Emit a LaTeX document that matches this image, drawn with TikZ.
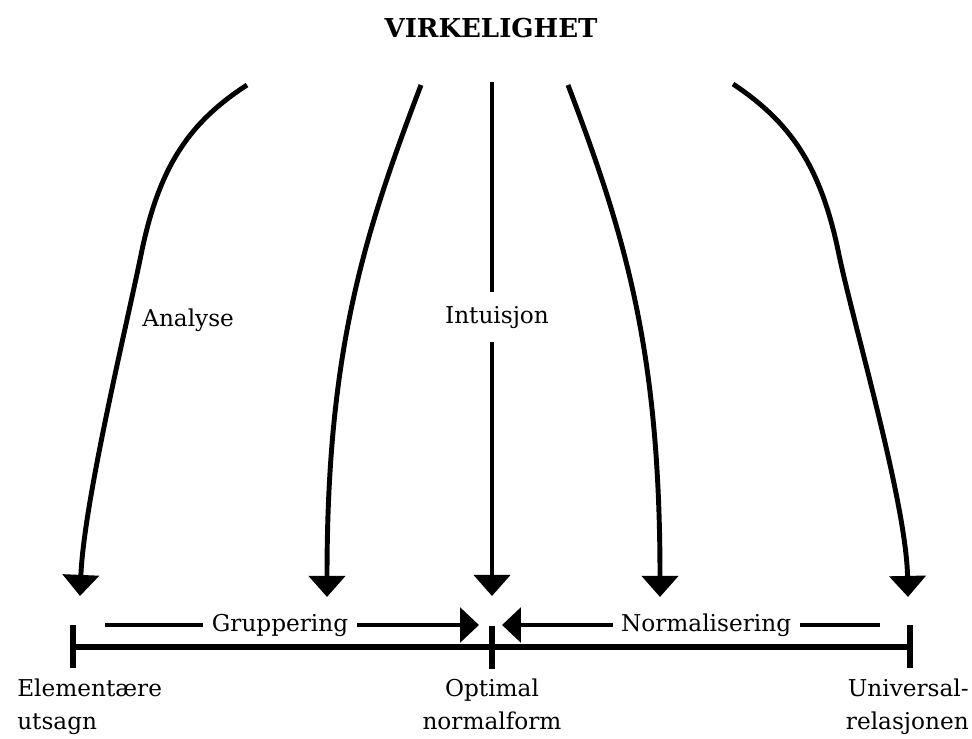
\documentclass[tikz,border=0pt]{standalone}
\usepackage{fontspec}
\setmainfont{DejaVu Serif}
\usetikzlibrary{arrows.meta}
\begin{document}
\begin{tikzpicture}[x=0.025cm,y=-0.025cm,
  flow/.style={line width=3.5pt, -{Triangle[width=25.5pt,length=15pt]}},
  push/.style={line width=3.4pt, -{Triangle[width=24.5pt,length=13.5pt]}},
  axisline/.style={line width=4pt},
  lbl/.style={font=\fontsize{16.5}{23.4}\selectfont, inner sep=0pt},
  vgap/.style={fill=white, inner xsep=6pt, inner ysep=10pt},
  hgap/.style={fill=white, inner xsep=6pt, inner ysep=3pt}
]
\useasboundingbox (0,0) rectangle (972,738);

% title
\node[font=\fontsize{18.5}{22}\selectfont\bfseries, anchor=base, inner sep=0pt] (virk) at (491,37) {VIRKELIGHET};

% upper ends of the five paths
\coordinate (sA) at (247,85);
\coordinate (sG) at (421,85);
\coordinate (sI) at (492,82);
\coordinate (sN) at (568,85);
\coordinate (sU) at (733,84);
% bends of the two outer paths
\coordinate (mA) at (142,250);
\coordinate (mU) at (838,250);
% arrow tips above the axis
\coordinate (tA) at (80,596);
\coordinate (tG) at (327,597);
\coordinate (tI) at (492,596);
\coordinate (tN) at (660,597);
\coordinate (tU) at (908,597);

\draw[flow] (sA) .. controls (190,122) and (160,165) .. (mA)
                 .. controls (128,320) and (84,500) .. (tA);
\draw[flow] (sG) .. controls (364,235) and (327,350) .. (tG);
\draw[flow] (sI) -- (tI);
\draw[flow] (sN) .. controls (625,235) and (660,350) .. (tN);
\draw[flow] (sU) .. controls (790,122) and (820,165) .. (mU)
                 .. controls (852,320) and (906,500) .. (tU);

\node[lbl, anchor=base west] (lA) at (142,326) {Analyse};
\node[lbl, vgap, anchor=base] (lI) at (497,323) {Intuisjon};

% horizontal arrows towards the middle
\coordinate (gS) at (105,625);
\coordinate (gT) at (479,625);
\coordinate (nS) at (880,625);
\coordinate (nT) at (502,625);
\draw[push] (gS) -- node[lbl, hgap, pos=0.468] (lG) {Gruppering} (gT);
\draw[push] (nS) -- node[lbl, hgap, pos=0.46] (lN) {Normalisering} (nT);

% axis with three ticks
\coordinate (xL) at (73,647);
\coordinate (xM) at (492,647);
\coordinate (xR) at (910,647);
\draw[axisline] (xL) -- (xR);
\draw[axisline] (xL) ++(0,-22) -- ++(0,43);
\draw[axisline] (xM) ++(0,-21) -- ++(0,43);
\draw[axisline] (xR) ++(0,-22) -- ++(0,43);

% axis labels
\node[lbl, align=left, anchor=north west] (lE) at (17,679) {Elementære\\utsagn};
\node[lbl, align=center, anchor=north] (lO) at (492,679) {Optimal\\normalform};
\node[lbl, align=right, anchor=north east] (lU) at (969,679) {Universal-\\relasjonen};
\end{tikzpicture}
\end{document}
